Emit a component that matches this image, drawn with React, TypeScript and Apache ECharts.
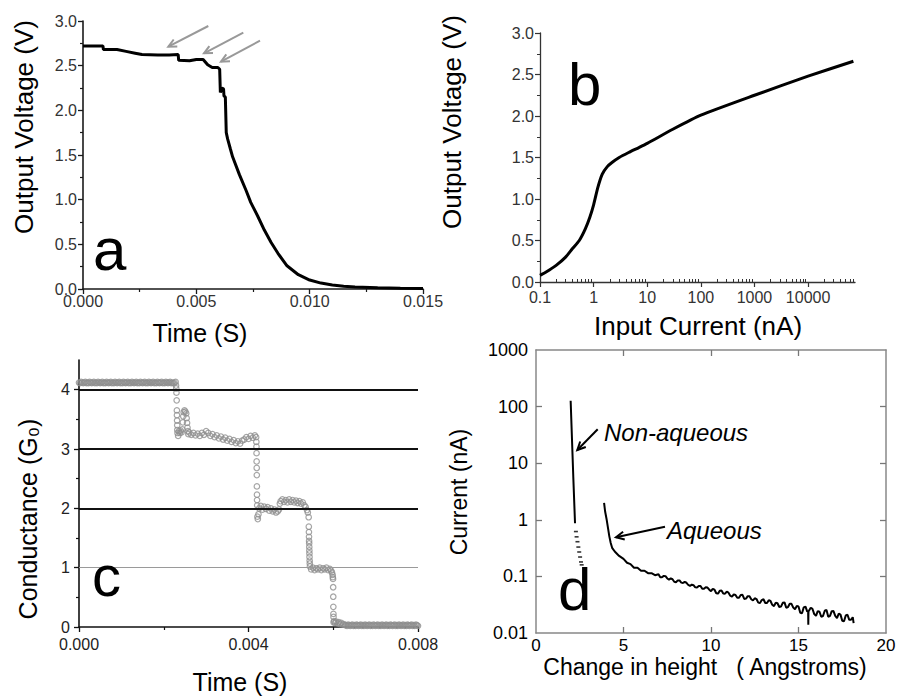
import React, { useEffect, useRef } from 'react';
import * as echarts from 'echarts';

const FONT = '"Liberation Sans", Arial, Helvetica, sans-serif';

// ---------- Panel a: output voltage (V) vs time (ms) ----------
const aCurve: [number, number][] = [
  [0, 2.72], [0.88, 2.72], [0.9, 2.68], [1.5, 2.68], [1.9, 2.66], [2.3, 2.64], [2.6, 2.625],
  [3.3, 2.62], [3.8, 2.62], [4.2, 2.625], [4.22, 2.56], [4.7, 2.555], [5.0, 2.57], [5.3, 2.57],
  [5.5, 2.51], [5.7, 2.48], [5.95, 2.48], [6.03, 2.46], [6.06, 2.2], [6.12, 2.25], [6.2, 2.24],
  [6.22, 2.16], [6.28, 2.15], [6.32, 1.75], [6.38, 1.68], [6.5, 1.57], [6.6, 1.48], [6.9, 1.28],
  [7.2, 1.1], [7.4, 0.97], [7.7, 0.82], [8.0, 0.66], [8.3, 0.52], [8.6, 0.4], [9.0, 0.26],
  [9.5, 0.16], [10.0, 0.1], [10.5, 0.066], [11.0, 0.045], [11.5, 0.032], [12.0, 0.022],
  [13.0, 0.013], [14.0, 0.008], [15.0, 0.005],
];
const aXTickValues = [0, 5, 10, 15];
const aXTickLabels = ['0.000', '0.005', '0.010', '0.015'];
const aXMinor = [2.5, 7.5, 12.5];
const voltTickValues = [0, 0.5, 1, 1.5, 2, 2.5, 3];
const voltTickLabels = ['0.0', '0.5', '1.0', '1.5', '2.0', '2.5', '3.0'];
const voltMinor = [0.25, 0.75, 1.25, 1.75, 2.25, 2.75];

// ---------- Panel b: output voltage vs input current (nA) ----------
const bCurrent = [0.1, 0.13, 0.2, 0.3, 0.4, 0.54, 0.7, 0.85, 1.0, 1.2, 1.45, 1.8, 2.2, 3, 4.5, 7, 10, 30, 100, 1000, 10000, 70000];
const bVoltage = [0.08, 0.12, 0.2, 0.3, 0.4, 0.5, 0.64, 0.78, 0.93, 1.14, 1.3, 1.39, 1.44, 1.5, 1.56, 1.62, 1.67, 1.84, 2.01, 2.25, 2.48, 2.66];
const bXTickValues = [0.1, 1, 10, 100, 1000, 10000];
const bXTickLabels = ['0.1', '1', '10', '100', '1000', '10000'];
const bMinorMultipliers = [2, 3, 4, 5, 6, 7, 8, 9];
const bXMax = 75000;

// ---------- Panel c: conductance (G0) vs time (ms) ----------
const cPlateau4: [number, number][] = [
  [0, 4.12], [0.025, 4.11], [0.05, 4.13], [0.075, 4.12], [0.1, 4.11], [0.125, 4.12], [0.15, 4.13], [0.175, 4.11],
  [0.2, 4.12], [0.225, 4.11], [0.25, 4.13], [0.275, 4.12], [0.3, 4.11], [0.325, 4.12], [0.35, 4.13], [0.375, 4.11],
  [0.4, 4.12], [0.425, 4.11], [0.45, 4.13], [0.475, 4.12], [0.5, 4.11], [0.525, 4.12], [0.55, 4.13], [0.575, 4.11],
  [0.6, 4.12], [0.625, 4.11], [0.65, 4.13], [0.675, 4.12], [0.7, 4.11], [0.725, 4.12], [0.75, 4.13], [0.775, 4.11],
  [0.8, 4.12], [0.825, 4.11], [0.85, 4.13], [0.875, 4.12], [0.9, 4.11], [0.925, 4.12], [0.95, 4.13], [0.975, 4.11],
  [1.0, 4.12], [1.025, 4.11], [1.05, 4.13], [1.075, 4.12], [1.1, 4.11], [1.125, 4.12], [1.15, 4.13], [1.175, 4.11],
  [1.2, 4.12], [1.225, 4.11], [1.25, 4.13], [1.275, 4.12], [1.3, 4.11], [1.325, 4.12], [1.35, 4.13], [1.375, 4.11],
  [1.4, 4.12], [1.425, 4.11], [1.45, 4.13], [1.475, 4.12], [1.5, 4.11], [1.525, 4.12], [1.55, 4.13], [1.575, 4.11],
  [1.6, 4.12], [1.625, 4.11], [1.65, 4.13], [1.675, 4.12], [1.7, 4.11], [1.725, 4.12], [1.75, 4.13], [1.775, 4.11],
  [1.8, 4.12], [1.825, 4.11], [1.85, 4.13], [1.875, 4.12], [1.9, 4.11], [1.925, 4.12], [1.95, 4.13], [1.975, 4.11],
  [2.0, 4.12], [2.025, 4.11], [2.05, 4.13], [2.075, 4.12], [2.1, 4.11], [2.125, 4.12], [2.15, 4.13], [2.175, 4.11],
  [2.2, 4.12], [2.225, 4.11], [2.25, 4.12],
];
const cSteps: [number, number][] = [
  [2.28, 4.13], [2.29, 4.07], [2.295, 4.02], [2.3, 3.95], [2.305, 3.82], [2.31, 3.65], [2.312, 3.57],
  [2.315, 3.48], [2.318, 3.4], [2.32, 3.32], [2.325, 3.27],
  [2.34, 3.22], [2.36, 3.3], [2.38, 3.27], [2.4, 3.31], [2.42, 3.28], [2.44, 3.33], [2.45, 3.45],
  [2.46, 3.55], [2.47, 3.62], [2.49, 3.65], [2.51, 3.63], [2.53, 3.6], [2.54, 3.52], [2.55, 3.44],
  [2.56, 3.36], [2.57, 3.3], [2.58, 3.25],
  [2.6, 3.28], [2.65, 3.24], [2.7, 3.27], [2.75, 3.23], [2.8, 3.26], [2.85, 3.22], [2.9, 3.27], [2.95, 3.24],
  [3.0, 3.3], [3.05, 3.27], [3.1, 3.22], [3.15, 3.25], [3.2, 3.2], [3.25, 3.23], [3.3, 3.18], [3.35, 3.21],
  [3.4, 3.16], [3.45, 3.19], [3.5, 3.14], [3.55, 3.17], [3.6, 3.12], [3.65, 3.15], [3.7, 3.1], [3.75, 3.13],
  [3.8, 3.09], [3.85, 3.14], [3.9, 3.16], [3.95, 3.2], [4.0, 3.17], [4.05, 3.22], [4.1, 3.19], [4.15, 3.23],
  [4.18, 3.2],
  [4.185, 3.12], [4.188, 3.04], [4.19, 2.93], [4.192, 2.79], [4.194, 2.68], [4.196, 2.56], [4.198, 2.37],
  [4.2, 2.23], [4.202, 2.14], [4.205, 2.05], [4.21, 1.86], [4.22, 1.82], [4.235, 1.9],
  [4.25, 2.0], [4.29, 2.04], [4.33, 1.98], [4.37, 2.03], [4.41, 1.99], [4.45, 2.02], [4.49, 1.96], [4.53, 2.0],
  [4.57, 1.95], [4.61, 1.98], [4.65, 1.93], [4.69, 1.95], [4.72, 1.98], [4.74, 2.08], [4.76, 2.12], [4.8, 2.15],
  [4.84, 2.11], [4.88, 2.14], [4.92, 2.1], [4.96, 2.15], [5.0, 2.11], [5.04, 2.14], [5.08, 2.1], [5.12, 2.13],
  [5.16, 2.09], [5.2, 2.12], [5.24, 2.08], [5.28, 2.1], [5.32, 2.05], [5.35, 2.02], [5.38, 1.97], [5.4, 1.93],
  [5.42, 1.85], [5.423, 1.69], [5.426, 1.6], [5.428, 1.52], [5.43, 1.45], [5.432, 1.41], [5.434, 1.35],
  [5.436, 1.29], [5.438, 1.24], [5.44, 1.18], [5.443, 1.12], [5.446, 1.07], [5.45, 1.02],
  [5.48, 0.97], [5.52, 1.0], [5.56, 0.96], [5.6, 0.99], [5.64, 0.97], [5.68, 1.0], [5.72, 0.96], [5.76, 0.99],
  [5.8, 0.97], [5.84, 1.0], [5.88, 0.96], [5.92, 0.98], [5.95, 0.95], [5.97, 0.92], [5.985, 0.88], [5.99, 0.84],
  [5.995, 0.81], [5.998, 0.67], [6.0, 0.51], [6.002, 0.34], [6.004, 0.22], [6.006, 0.17], [6.008, 0.08],
  [6.02, 0.1], [6.04, 0.07], [6.07, 0.09], [6.1, 0.06], [6.13, 0.08], [6.16, 0.05], [6.19, 0.07], [6.22, 0.04],
  [6.25, 0.05], [6.28, 0.03],
];
const cPlateau0: [number, number][] = [
  [6.3, 0.03], [6.325, 0.02], [6.35, 0.04], [6.375, 0.03], [6.4, 0.02], [6.425, 0.03], [6.45, 0.04], [6.475, 0.02],
  [6.5, 0.03], [6.525, 0.02], [6.55, 0.04], [6.575, 0.03], [6.6, 0.02], [6.625, 0.03], [6.65, 0.04], [6.675, 0.02],
  [6.7, 0.03], [6.725, 0.02], [6.75, 0.04], [6.775, 0.03], [6.8, 0.02], [6.825, 0.03], [6.85, 0.04], [6.875, 0.02],
  [6.9, 0.03], [6.925, 0.02], [6.95, 0.04], [6.975, 0.03], [7.0, 0.02], [7.025, 0.03], [7.05, 0.04], [7.075, 0.02],
  [7.1, 0.03], [7.125, 0.02], [7.15, 0.04], [7.175, 0.03], [7.2, 0.02], [7.225, 0.03], [7.25, 0.04], [7.275, 0.02],
  [7.3, 0.03], [7.325, 0.02], [7.35, 0.04], [7.375, 0.03], [7.4, 0.02], [7.425, 0.03], [7.45, 0.04], [7.475, 0.02],
  [7.5, 0.03], [7.525, 0.02], [7.55, 0.04], [7.575, 0.03], [7.6, 0.02], [7.625, 0.03], [7.65, 0.04], [7.675, 0.02],
  [7.7, 0.03], [7.725, 0.02], [7.75, 0.04], [7.775, 0.03], [7.8, 0.02], [7.825, 0.03], [7.85, 0.04], [7.875, 0.02],
  [7.9, 0.03], [7.925, 0.02], [7.95, 0.04], [7.975, 0.03], [8.0, 0.02],
];
const cLevels = [1, 2, 3, 4];
const cXTickValues = [0, 4, 8];
const cXTickLabels = ['0.000', '0.004', '0.008'];
const cXMinor = [2, 6];
const cYTickValues = [0, 1, 2, 3, 4];
const cYTickLabels = ['0', '1', '2', '3', '4'];
const cYMinor = [0.5, 1.5, 2.5, 3.5];

// ---------- Panel d: current (nA) vs change in height (Angstroms) ----------
const dNonAqueousLine: [number, number][] = [[1.98, 127], [2.13, 5.8], [2.23, 0.87]];
const dNonAqueousDots: [number, number][] = [
  [2.28, 0.62], [2.32, 0.5], [2.37, 0.41], [2.42, 0.33], [2.47, 0.27], [2.52, 0.22], [2.57, 0.18], [2.61, 0.16],
];
const dAqueous: [number, number][] = [
  [3.89, 2.0], [3.95, 1.4], [4.04, 1.0], [4.12, 0.7], [4.19, 0.51], [4.27, 0.39], [4.35, 0.32], [4.5, 0.275],
  [4.75, 0.23], [5.0, 0.204], [5.2, 0.174], [5.4, 0.165], [5.6, 0.142], [5.8, 0.142], [6.0, 0.126], [6.2, 0.126],
  [6.4, 0.114], [6.6, 0.114], [6.8, 0.105],
  [7.0, 0.109], [7.1, 0.0968], [7.2, 0.0966], [7.3, 0.1022], [7.4, 0.1007], [7.5, 0.0919], [7.6, 0.0877],
  [7.7, 0.0922], [7.8, 0.0891], [7.9, 0.0804], [8.0, 0.079], [8.1, 0.085], [8.2, 0.0849], [8.3, 0.0776],
  [8.4, 0.0766], [8.5, 0.0799], [8.6, 0.0772], [8.7, 0.0705], [8.8, 0.0678], [8.9, 0.0716], [9.0, 0.0698],
  [9.1, 0.064], [9.2, 0.0637], [9.3, 0.0679], [9.4, 0.0678], [9.5, 0.0604], [9.6, 0.0605], [9.7, 0.0643],
  [9.8, 0.0636], [9.9, 0.0583], [10.0, 0.0549], [10.1, 0.0602], [10.2, 0.0582], [10.3, 0.0503], [10.4, 0.0496],
  [10.5, 0.056], [10.6, 0.0565], [10.7, 0.0499], [10.8, 0.0496], [10.9, 0.0536], [11.0, 0.0516], [11.1, 0.0457],
  [11.2, 0.0437], [11.3, 0.0482], [11.4, 0.047], [11.5, 0.0418], [11.6, 0.042], [11.7, 0.0469], [11.8, 0.0473],
  [11.9, 0.04], [12.0, 0.0405], [12.1, 0.0448], [12.2, 0.0445], [12.3, 0.0395], [12.4, 0.0375], [12.5, 0.0411],
  [12.6, 0.0398], [12.7, 0.0344], [12.8, 0.0339], [12.9, 0.0382], [13.0, 0.0395], [13.1, 0.0339], [13.2, 0.0339],
  [13.3, 0.038], [13.4, 0.0368], [13.5, 0.0315], [13.6, 0.0299], [13.7, 0.0343], [13.8, 0.0335], [13.9, 0.0288],
  [14.0, 0.0293], [14.1, 0.0341], [14.2, 0.0347], [14.3, 0.0279], [14.4, 0.0287], [14.5, 0.0329], [14.6, 0.0328],
  [14.7, 0.0281], [14.8, 0.0264], [14.9, 0.0299], [15.0, 0.0293], [15.1, 0.0228], [15.2, 0.0224], [15.3, 0.0284],
  [15.4, 0.0292], [15.5, 0.0239], [15.55, 0.0245], [15.56, 0.014], [15.57, 0.024], [15.6, 0.0239], [15.7, 0.0279],
  [15.8, 0.0266], [15.9, 0.0216], [16.0, 0.0201], [16.1, 0.0243], [16.2, 0.0237], [16.3, 0.0194], [16.4, 0.02],
  [16.5, 0.0247], [16.6, 0.0255], [16.7, 0.0193], [16.8, 0.0201], [16.9, 0.0243], [17.0, 0.0244], [17.1, 0.02],
  [17.2, 0.0184], [17.3, 0.022], [17.4, 0.0211], [17.5, 0.0164], [17.6, 0.0161], [17.7, 0.0204], [17.8, 0.021],
  [17.9, 0.0171], [18.0, 0.0171], [18.1, 0.019], [18.15, 0.015],
];
const dXTickValues = [0, 5, 10, 15, 20];
const dXTickLabels = ['0', '5', '10', '15', '20'];
const dXInner = [5, 10, 15];
const dYTickValues = [0.01, 0.1, 1, 10, 100, 1000];
const dYTickLabels = ['0.01', '0.1', '1', '10', '100', '1000'];
const dYInner = [0.1, 1, 10, 100];

function lookup(values: number[], labels: string[]) {
  return (v: number) => {
    const i = values.findIndex((t) => Math.abs(t - v) <= Math.abs(t) * 1e-6 + 1e-9);
    return i >= 0 ? labels[i] : '';
  };
}

function mk(p: any) {
  return {
    gridIndex: p.grid,
    type: p.type || 'value',
    position: p.pos,
    min: p.min,
    max: p.max,
    ...(p.type === 'log' ? { logBase: 10 } : {}),
    splitLine: { show: false },
    minorTick: { show: false },
    minorSplitLine: { show: false },
    axisLine: {
      show: !!p.line,
      onZero: false,
      lineStyle: { color: p.line ? p.line.color : '#000', width: p.line ? p.line.width : 1 },
    },
    axisTick: {
      show: true,
      customValues: p.tick.values,
      length: p.tick.len,
      inside: !!p.tick.inside,
      lineStyle: { color: p.tick.color, width: p.tick.width || 1 },
    },
    axisLabel: p.label
      ? {
          show: true,
          customValues: p.label.values,
          formatter: lookup(p.label.values, p.label.texts),
          fontSize: p.label.size,
          color: p.label.color,
          margin: p.label.margin,
          fontFamily: FONT,
        }
      : { show: false },
  };
}

function arrow(x1: number, y1: number, x2: number, y2: number, color: string, width: number, head: number) {
  const ang = Math.atan2(y1 - y2, x1 - x2);
  const a1 = ang + 0.45;
  const a2 = ang - 0.45;
  return [
    { type: 'line', shape: { x1, y1, x2, y2 }, style: { stroke: color, lineWidth: width }, z: 100 },
    {
      type: 'polyline',
      shape: {
        points: [
          [x2 + head * Math.cos(a1), y2 + head * Math.sin(a1)],
          [x2, y2],
          [x2 + head * Math.cos(a2), y2 + head * Math.sin(a2)],
        ],
      },
      style: { stroke: color, lineWidth: width, fill: null },
      z: 100,
    },
  ];
}

function txt(text: string, x: number, y: number, size: number, o: any = {}) {
  return {
    type: 'text',
    x,
    y,
    rotation: o.rotate || 0,
    z: 100,
    style: {
      text,
      font: `${o.italic ? 'italic ' : ''}${size}px ${FONT}`,
      fill: o.color || '#000',
      textAlign: o.align || 'center',
      align: o.align || 'center',
      textVerticalAlign: 'middle',
      verticalAlign: 'middle',
    },
  };
}

export default function App() {
  const ref = useRef<HTMLDivElement>(null);

  useEffect(() => {
    if (!ref.current) return;
    const chart = echarts.init(ref.current, undefined, { renderer: 'svg' });

    const bXMinor = bXTickValues
      .flatMap((d) => bMinorMultipliers.map((m) => d * m))
      .filter((v) => v <= bXMax);

    const axisA = { color: '#1a1a1a', width: 1.6 };
    const axisB = { color: '#333', width: 1.3 };
    const axisC = { color: '#111', width: 1.6 };
    const axisD = { color: '#888', width: 1.5 };

    const circleStyle = { color: 'rgba(255,255,255,0)', borderColor: '#8e8e8e', borderWidth: 1.2 };

    const option: any = {
      animation: false,
      backgroundColor: '#fff',
      grid: [
        { left: 83, top: 21, width: 340, height: 268, outerBoundsMode: 'none', containLabel: false },
        { left: 540, top: 33, width: 315, height: 249, outerBoundsMode: 'none', containLabel: false },
        { left: 79, top: 360, width: 339, height: 267, outerBoundsMode: 'none', containLabel: false },
        { left: 536, top: 350, width: 350, height: 283, outerBoundsMode: 'none', containLabel: false },
      ],
      xAxis: [
        mk({ grid: 0, pos: 'bottom', min: 0, max: 15, line: axisA,
          tick: { values: aXTickValues, len: 5, color: '#1a1a1a', width: 1.3 },
          label: { values: aXTickValues, texts: aXTickLabels, size: 16, color: '#333', margin: 4 } }),
        mk({ grid: 0, pos: 'bottom', min: 0, max: 15, line: null,
          tick: { values: aXMinor, len: 3, color: '#1a1a1a', width: 1.2 }, label: null }),
        mk({ grid: 1, pos: 'bottom', type: 'log', min: 0.1, max: bXMax, line: axisB,
          tick: { values: bXTickValues, len: 5, color: '#333', width: 1.2 },
          label: { values: bXTickValues, texts: bXTickLabels, size: 16, color: '#333', margin: 7 } }),
        mk({ grid: 1, pos: 'bottom', type: 'log', min: 0.1, max: bXMax, line: null,
          tick: { values: bXMinor, len: 3, inside: true, color: '#333', width: 1 }, label: null }),
        mk({ grid: 2, pos: 'bottom', min: 0, max: 8, line: axisC,
          tick: { values: cXTickValues, len: 5, color: '#111', width: 1.3 },
          label: { values: cXTickValues, texts: cXTickLabels, size: 16, color: '#222', margin: 9 } }),
        mk({ grid: 2, pos: 'bottom', min: 0, max: 8, line: null,
          tick: { values: cXMinor, len: 3, color: '#111', width: 1.2 }, label: null }),
        mk({ grid: 3, pos: 'bottom', min: 0, max: 20, line: axisD,
          tick: { values: dXInner, len: 6, inside: true, color: '#777', width: 1.3 },
          label: { values: dXTickValues, texts: dXTickLabels, size: 17, color: '#000', margin: 4 } }),
        mk({ grid: 3, pos: 'top', min: 0, max: 20, line: axisD,
          tick: { values: dXInner, len: 6, inside: true, color: '#777', width: 1.3 }, label: null }),
      ],
      yAxis: [
        mk({ grid: 0, pos: 'left', min: 0, max: 3, line: axisA,
          tick: { values: voltTickValues, len: 5, color: '#1a1a1a', width: 1.3 },
          label: { values: voltTickValues, texts: voltTickLabels, size: 16, color: '#333', margin: 6 } }),
        mk({ grid: 0, pos: 'left', min: 0, max: 3, line: null,
          tick: { values: voltMinor, len: 3, color: '#1a1a1a', width: 1.2 }, label: null }),
        mk({ grid: 1, pos: 'left', min: 0, max: 3, line: axisB,
          tick: { values: voltTickValues, len: 5, color: '#333', width: 1.2 },
          label: { values: voltTickValues, texts: voltTickLabels, size: 16, color: '#333', margin: 6 } }),
        mk({ grid: 1, pos: 'left', min: 0, max: 3, line: null,
          tick: { values: voltMinor, len: 3, color: '#333', width: 1 }, label: null }),
        mk({ grid: 2, pos: 'left', min: 0, max: 4.5, line: axisC,
          tick: { values: cYTickValues, len: 5, color: '#111', width: 1.3 },
          label: { values: cYTickValues, texts: cYTickLabels, size: 16, color: '#222', margin: 9 } }),
        mk({ grid: 2, pos: 'left', min: 0, max: 4.5, line: null,
          tick: { values: cYMinor, len: 3, color: '#111', width: 1.2 }, label: null }),
        mk({ grid: 3, pos: 'left', type: 'log', min: 0.01, max: 1000, line: axisD,
          tick: { values: dYInner, len: 6, inside: true, color: '#777', width: 1.3 },
          label: { values: dYTickValues, texts: dYTickLabels, size: 18, color: '#000', margin: 8 } }),
        mk({ grid: 3, pos: 'right', type: 'log', min: 0.01, max: 1000, line: axisD,
          tick: { values: dYInner, len: 6, inside: true, color: '#777', width: 1.3 }, label: null }),
      ],
      series: [
        {
          type: 'line', xAxisIndex: 0, yAxisIndex: 0, data: aCurve, symbol: 'none', silent: true,
          lineStyle: { color: '#000', width: 3 },
        },
        {
          type: 'line', xAxisIndex: 2, yAxisIndex: 2, data: bCurrent.map((c, i) => [c, bVoltage[i]]),
          symbol: 'none', smooth: 0.2, silent: true, lineStyle: { color: '#000', width: 3 },
        },
        {
          type: 'line', xAxisIndex: 4, yAxisIndex: 4, data: [], symbol: 'none', silent: true, z: 1,
          markLine: {
            silent: true,
            symbol: ['none', 'none'],
            label: { show: false },
            data: cLevels.map((l) => ({
              yAxis: l,
              lineStyle: { color: l === 1 ? '#9a9a9a' : '#111', width: l === 1 ? 1.2 : 1.8, type: 'solid' },
            })),
          },
        },
        {
          type: 'scatter', xAxisIndex: 4, yAxisIndex: 4, data: [...cPlateau4, ...cSteps, ...cPlateau0],
          symbol: 'circle', symbolSize: 5.5, silent: true, z: 3, itemStyle: circleStyle,
        },
        {
          type: 'line', xAxisIndex: 6, yAxisIndex: 6, data: dNonAqueousLine, symbol: 'none', silent: true,
          lineStyle: { color: '#000', width: 2 },
        },
        {
          type: 'scatter', xAxisIndex: 6, yAxisIndex: 6, data: dNonAqueousDots, symbol: 'rect',
          symbolSize: [4, 1.6], silent: true, itemStyle: { color: '#000' },
        },
        {
          type: 'line', xAxisIndex: 6, yAxisIndex: 6, data: dAqueous, symbol: 'none', silent: true,
          lineStyle: { color: '#000', width: 2 },
        },
      ],
      graphic: {
        elements: [
          txt('Output Voltage (V)', 24, 127, 26, { rotate: Math.PI / 2 }),
          txt('Time (S)', 200, 333, 25),
          txt('a', 93, 249, 60, { align: 'left' }),
          ...arrow(208.3, 26, 168.3, 46.7, '#999', 2, 9),
          ...arrow(243.3, 32.7, 204, 53.3, '#999', 2, 9),
          ...arrow(260, 40.7, 221, 61.7, '#999', 2, 9),

          txt('Output Voltage (V)', 452, 122, 26, { rotate: Math.PI / 2 }),
          txt('Input Current (nA)', 698, 326, 26),
          txt('b', 568, 84, 60, { align: 'left' }),

          txt('Conductance (G\u2080)', 28, 519, 25, { rotate: Math.PI / 2 }),
          txt('Time (S)', 240, 682, 25),
          txt('c', 92, 575, 58, { align: 'left' }),

          txt('Current (nA)', 459, 492, 23, { rotate: Math.PI / 2 }),
          txt('Change in height   ( Angstroms)', 705, 667, 23),
          txt('d', 558, 589, 60, { align: 'left' }),
          txt('Non-aqueous', 604, 432, 24, { align: 'left', italic: true }),
          txt('Aqueous', 667, 530, 24, { align: 'left', italic: true }),
          ...arrow(597.7, 429.3, 577.3, 450, '#000', 2, 9),
          ...arrow(665, 526.7, 616, 537.3, '#000', 2, 9),
        ],
      },
    };

    chart.setOption(option);
    return () => chart.dispose();
  }, []);

  return (
    <div
      ref={ref}
      style={{ position: 'fixed', left: 0, top: 0, width: 898, height: 698, background: '#fff' }}
    />
  );
}
